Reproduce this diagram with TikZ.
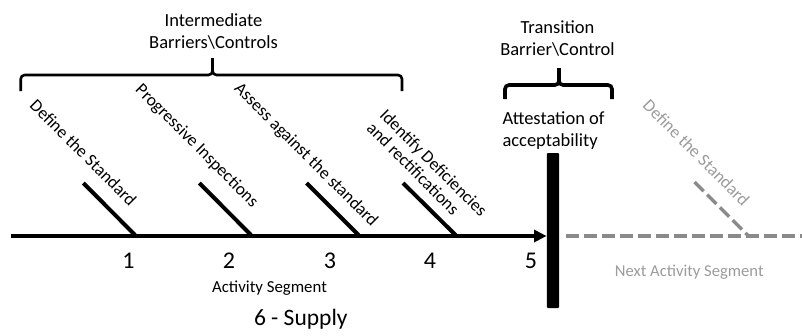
\documentclass[tikz,border=0pt]{standalone}
\usepackage{fontspec}
\setmainfont{Carlito}
\usetikzlibrary{arrows.meta}
\definecolor{nextline}{HTML}{8A8A8A}
\definecolor{nexttext}{HTML}{9B9B9B}
\begin{document}
\begin{tikzpicture}[x=1pt,y=-1pt,
  spine/.style={line width=4pt},
  ribline/.style={line width=4pt},
  bracepath/.style={line width=2.6pt,rounded corners=4pt},
  ribtext/.style={font=\fontsize{17.5}{18.5}\selectfont,rotate=-45,inner sep=0pt},
  headtext/.style={font=\fontsize{18.5}{22}\selectfont,inner sep=0pt},
  numlabel/.style={font=\fontsize{24}{28}\selectfont,inner sep=0pt,anchor=base},
  nextdash/.style={nextline,line width=3.5pt,dash pattern=on 13pt off 5pt},
]
\useasboundingbox (0,0) rectangle (802,335);

% headings over the braces (base = baseline of the last line)
\node[headtext,align=center,anchor=base] (ihead) at (213.5,48.3)
  {Intermediate\\Barriers\textbackslash Controls};
\node[headtext,align=center,anchor=base] (thead) at (557.5,55)
  {Transition\\Barrier\textbackslash Control};

% brace over the intermediate barriers
\coordinate (ib0) at (20.7,91);
\coordinate (ib1) at (402,91);
\coordinate (ibtip) at (212.5,58);
\draw[bracepath] (ib0) -- (20.7,75) -- (ibtip |- 0,75) -- (ibtip);
\draw[bracepath] (ib1) -- (402,75) -- (ibtip |- 0,75) -- (ibtip);

% brace over the transition barrier
\coordinate (tb0) at (505,99);
\coordinate (tb1) at (612,99);
\coordinate (tbtip) at (559,68);
\draw[bracepath,line width=3.6pt] (tb0) -- (505,85) -- (tbtip |- 0,85) -- (tbtip);
\draw[bracepath,line width=3.6pt] (tb1) -- (612,85) -- (tbtip |- 0,85) -- (tbtip);

\node[headtext,align=left,anchor=base west] (attest) at (502.3,146)
  {Attestation of\\acceptability};

% transition bar
\node[fill=black,minimum width=12.3pt,minimum height=155pt,inner sep=0pt,
      rounded corners=1pt] (bar) at (552.9,230.5) {};

% activity spine
\coordinate (s0) at (11,236);
\draw[spine,-{Triangle[length=12.5pt,width=12pt]}] (s0) -- (s0 -| bar.west);

% ribs
\coordinate (r1t) at (83.3,183); \coordinate (r1b) at (135,235);
\coordinate (r2t) at (199.3,183); \coordinate (r2b) at (251,235);
\coordinate (r3t) at (306.5,183); \coordinate (r3b) at (358.5,235);
\coordinate (r4t) at (403,183); \coordinate (r4b) at (455.5,235);
\draw[ribline] (r1t) -- (r1b);
\draw[ribline] (r2t) -- (r2b);
\draw[ribline] (r3t) -- (r3b);
\draw[ribline] (r4t) -- (r4b);

% rib labels
\node[ribtext,anchor=base east] (l1) at (129.5,207) {Define the Standard};
\node[ribtext,anchor=base east] (l2) at (252,208) {Progressive Inspections};
\node[ribtext,anchor=base east] (l3) at (371.5,227.5) {Assess against the standard};
\node[ribtext,align=left,anchor=north west] (l4) at (387.5,107.5)
  {Identify Deficiencies\\and rectifications};

% segment numbers
\node[numlabel] (n1) at (128.5,268) {1};
\node[numlabel] (n2) at (229,268) {2};
\node[numlabel] (n3) at (330,268) {3};
\node[numlabel] (n4) at (430,268) {4};
\node[numlabel] (n5) at (531,268) {5};

\node[font=\fontsize{16.8}{20}\selectfont,inner sep=0pt,anchor=base] (seg) at (269.5,292.5)
  {Activity Segment};
\node[font=\fontsize{23.5}{28}\selectfont,inner sep=0pt,anchor=base] (supply) at (300.8,325)
  {6 - Supply};

% next activity segment
\coordinate (x0) at (566,236);
\coordinate (x1) at (802,236);
\coordinate (xt) at (694.5,182);
\coordinate (xb) at (747.5,235);
\draw[nextdash] (x0) -- (x1);
\draw[nextdash] (xt) -- (xb);
\node[ribtext,text=nexttext,anchor=base east] (xl) at (742.5,207)
  {Define the Standard};
\node[text=nexttext,font=\fontsize{16.6}{20}\selectfont,inner sep=0pt,anchor=base] (xseg) at (689.2,276.7)
  {Next Activity Segment};
\end{tikzpicture}
\end{document}
